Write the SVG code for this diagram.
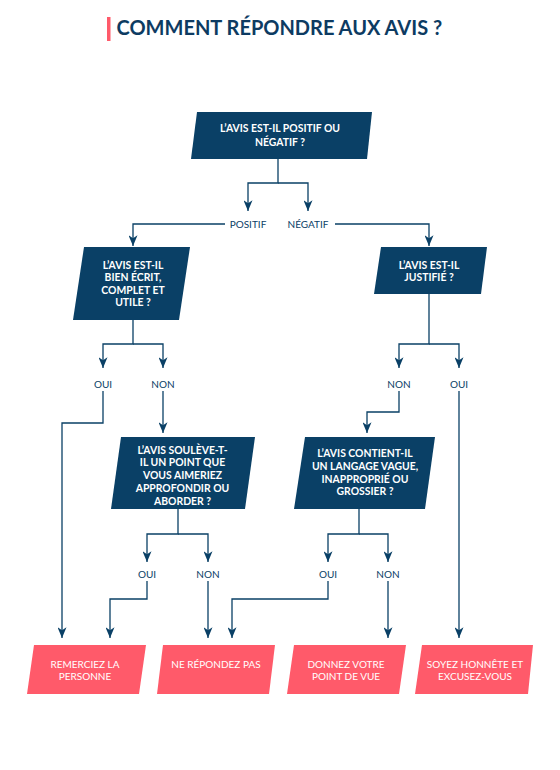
<svg xmlns="http://www.w3.org/2000/svg" width="560" height="770" viewBox="0 0 560 770">
<style>
.q{fill:#0a4066}
.a{fill:#ff5a6a}
.qt{font-family:Lato,"Open Sans","Liberation Sans",sans-serif;font-weight:700;font-size:10.4px;fill:#ffffff;text-anchor:middle}
.at{font-family:Lato,"Open Sans","Liberation Sans",sans-serif;font-weight:400;font-size:10px;fill:#ffffff;text-anchor:middle}
.lb{font-family:Lato,"Open Sans","Liberation Sans",sans-serif;font-weight:400;font-size:10px;fill:#0a4066;text-anchor:middle}
.c{fill:none;stroke:#0a4066;stroke-width:1.3}
</style>
<defs>
<marker id="arr" viewBox="0 0 12 10" refX="12" refY="5" markerWidth="11" markerHeight="9" markerUnits="userSpaceOnUse" orient="auto">
<path d="M0,0 L12,5 L0,10 L3.5,5 z" fill="#0a4066"/>
</marker>
</defs>
<rect width="560" height="770" fill="#ffffff"/>
<g id="title">
<rect x="107" y="17" width="3.5" height="24" fill="#ff5a6a"/>
<text x="116.5" y="34.5" font-family="Lato,'Open Sans','Liberation Sans',sans-serif" font-weight="700" font-size="20" fill="#0d3b62">COMMENT RÉPONDRE AUX AVIS ?</text>
</g>
<g id="connectors">
<path class="c" d="M278,159 V183 H248 V211" marker-end="url(#arr)"/>
<path class="c" d="M278,183 H308 V211" marker-end="url(#arr)"/>
<path class="c" d="M225,224 H133 V246" marker-end="url(#arr)"/>
<path class="c" d="M335,224 H429 V246" marker-end="url(#arr)"/>
<path class="c" d="M133,320 V344 H103 V368" marker-end="url(#arr)"/>
<path class="c" d="M133,344 H163 V368" marker-end="url(#arr)"/>
<path class="c" d="M429,294 V344 H399 V368" marker-end="url(#arr)"/>
<path class="c" d="M429,344 H459 V368" marker-end="url(#arr)"/>
<path class="c" d="M103,391 V423 H62 V638" marker-end="url(#arr)"/>
<path class="c" d="M163,391 V433" marker-end="url(#arr)"/>
<path class="c" d="M399,391 V412 H367 V433" marker-end="url(#arr)"/>
<path class="c" d="M459,391 V638" marker-end="url(#arr)"/>
<path class="c" d="M178,509 V534 H147 V562" marker-end="url(#arr)"/>
<path class="c" d="M178,534 H208 V562" marker-end="url(#arr)"/>
<path class="c" d="M359,509 V534 H328 V562" marker-end="url(#arr)"/>
<path class="c" d="M359,534 H388 V562" marker-end="url(#arr)"/>
<path class="c" d="M147,581 V599 H110 V638" marker-end="url(#arr)"/>
<path class="c" d="M208,581 V638" marker-end="url(#arr)"/>
<path class="c" d="M328,581 V599 H232 V638" marker-end="url(#arr)"/>
<path class="c" d="M388,581 V638" marker-end="url(#arr)"/>
</g>
<g id="labels">
<text class="lb" x="248" y="227.5">POSITIF</text>
<text class="lb" x="308" y="227.5">NÉGATIF</text>
<text class="lb" x="103" y="387.8">OUI</text>
<text class="lb" x="163" y="387.8">NON</text>
<text class="lb" x="399" y="387.8">NON</text>
<text class="lb" x="459" y="387.8">OUI</text>
<text class="lb" x="147" y="577.5">OUI</text>
<text class="lb" x="208" y="577.5">NON</text>
<text class="lb" x="328" y="577.5">OUI</text>
<text class="lb" x="388" y="577.5">NON</text>
</g>
<g id="q1">
<polygon class="q" points="197,112 372,112 367,159 191,159"/>
<text class="qt" x="280" y="132">L’AVIS EST-IL POSITIF OU</text>
<text class="qt" x="280" y="146">NÉGATIF ?</text>
</g>
<g id="q2">
<polygon class="q" points="84,247 190,247 179,320 73,320"/>
<text class="qt" x="133" y="268.5">L’AVIS EST-IL</text>
<text class="qt" x="133" y="281">BIEN ÉCRIT,</text>
<text class="qt" x="133" y="293.5">COMPLET ET</text>
<text class="qt" x="133" y="306">UTILE ?</text>
</g>
<g id="q3">
<polygon class="q" points="381,247 487,247 481,294 374,294"/>
<text class="qt" x="429" y="268.5">L’AVIS EST-IL</text>
<text class="qt" x="429" y="280.5">JUSTIFIÉ ?</text>
</g>
<g id="q4">
<polygon class="q" points="121,437 255,437 245,509 111,509"/>
<text class="qt" x="182.5" y="454.2">L’AVIS SOULÈVE-T-</text>
<text class="qt" x="182.5" y="466">IL UN POINT QUE</text>
<text class="qt" x="182.5" y="478.5">VOUS AIMERIEZ</text>
<text class="qt" x="182.5" y="491.8">APPROFONDIR OU</text>
<text class="qt" x="182.5" y="504.5">ABORDER ?</text>
</g>
<g id="q5">
<polygon class="q" points="305,437 435,437 425,509 294,509"/>
<text class="qt" x="365" y="456.8">L’AVIS CONTIENT-IL</text>
<text class="qt" x="365" y="470.2">UN LANGAGE VAGUE,</text>
<text class="qt" x="365" y="482.8">INAPPROPRIÉ OU</text>
<text class="qt" x="365" y="495.2">GROSSIER ?</text>
</g>
<g id="r1">
<polygon class="a" points="34,645 146,645 139,694 27,694"/>
<text class="at" x="85" y="667.8">REMERCIEZ LA</text>
<text class="at" x="85" y="680.2">PERSONNE</text>
</g>
<g id="r2">
<polygon class="a" points="163,645 275,645 269,694 157,694"/>
<text class="at" x="216" y="667.5">NE RÉPONDEZ PAS</text>
</g>
<g id="r3">
<polygon class="a" points="294,645 406,645 399,694 287,694"/>
<text class="at" x="346" y="667.8">DONNEZ VOTRE</text>
<text class="at" x="346" y="680.2">POINT DE VUE</text>
</g>
<g id="r4">
<polygon class="a" points="422,645 533,645 528,694 415,694"/>
<text class="at" x="475" y="667.8">SOYEZ HONNÊTE ET</text>
<text class="at" x="475" y="680.2">EXCUSEZ-VOUS</text>
</g>
</svg>
